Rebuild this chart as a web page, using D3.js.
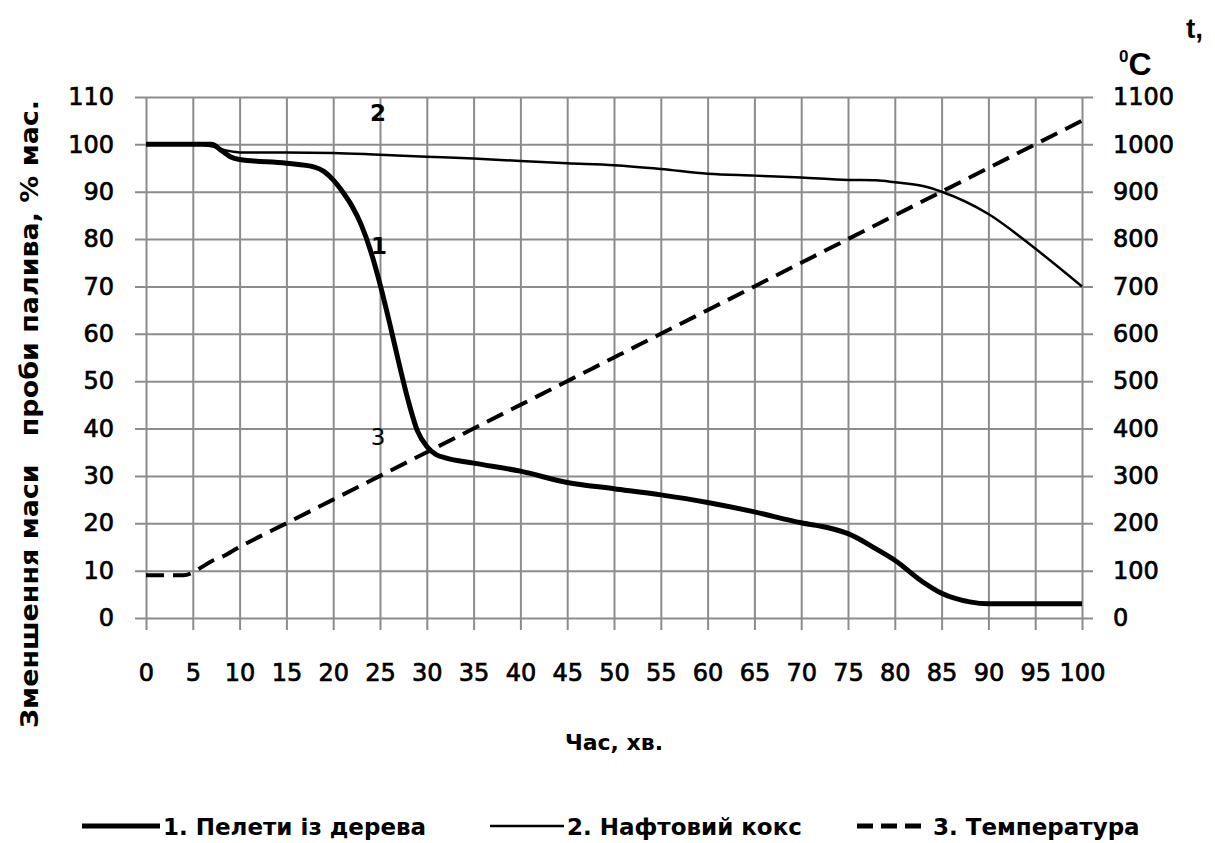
<!DOCTYPE html>
<html>
<head>
<meta charset="utf-8">
<script src="https://cdn.jsdelivr.net/npm/d3@7"></script>
<style>
  body { margin: 0; background: #fff; }
  svg { display: block; }
  text { font-family: "DejaVu Sans", Verdana, sans-serif; fill: #000; }
</style>
</head>
<body>
<div id="chart"></div>
<script>
// minutes, % of mass — series 1 (wood pellets)
const pelletTime = [0, 5, 7, 8, 9, 10, 15, 18, 19, 20, 21, 22, 23, 24, 25, 26, 27, 28, 29, 30, 31, 32, 35, 40, 45, 50, 55, 60, 65, 70, 73, 75, 78, 80, 83, 85, 88, 90, 95, 100]
const pelletMass = [100, 100, 100, 98.8, 97.4, 96.8, 96, 95.2, 94.3, 92.5, 90, 87, 83, 77.5, 70.5, 62.5, 54, 46, 39.5, 36.2, 34.5, 33.8, 32.7, 31, 28.6, 27.3, 26, 24.4, 22.4, 20.1, 19, 17.8, 14.6, 12.2, 7.6, 5.2, 3.4, 3, 3, 3]

// series 2 (petroleum coke)
const cokeTime = [0, 5, 7, 8, 9.5, 10, 15, 20, 25, 30, 35, 40, 45, 50, 55, 60, 65, 70, 75, 78, 80, 83, 85, 90, 95, 100]
const cokeMass = [100, 100, 99.6, 99, 98.4, 98.3, 98.3, 98.2, 97.8, 97.4, 97, 96.5, 96, 95.6, 94.8, 93.8, 93.4, 93, 92.5, 92.4, 92, 91.2, 90, 85.3, 78, 70]

// series 3 (temperature, °C)
const tempTime = [0, 4, 5, 6, 7, 8, 10, 15, 20, 25, 30, 35, 40, 45, 50, 55, 60, 65, 70, 75, 80, 85, 90, 95, 100]
const tempValue = [90, 90, 96, 108, 120, 128, 150, 200, 250, 300, 350, 400, 450, 500, 550, 600, 650, 700, 750, 800, 850, 900, 950, 1000, 1050]

const xTicks = d3.range(0, 101, 5)
const leftTicks = d3.range(0, 111, 10)
const rightTicks = d3.range(0, 1101, 100)

const WIDTH = 1215, HEIGHT = 843
const PLOT = { LEFT: 146, RIGHT: 1082, TOP: 97, BOTTOM: 618 }
const GRID = "#8c8c8c"

const svg = d3.select("#chart").append("svg")
  .attr("width", WIDTH)
  .attr("height", HEIGHT)

const x = d3.scaleLinear().domain([0, 100]).range([PLOT.LEFT, PLOT.RIGHT])
const yL = d3.scaleLinear().domain([0, 110]).range([PLOT.BOTTOM, PLOT.TOP])
const yR = d3.scaleLinear().domain([0, 1100]).range([PLOT.BOTTOM, PLOT.TOP])

// grid (lines overhang the plot a little, like tick marks)
const gridH = svg.append("g")
  .attr("transform", `translate(${PLOT.LEFT - 11}, 0)`)
  .call(d3.axisRight(yL).tickValues(leftTicks).tickSize(PLOT.RIGHT - PLOT.LEFT + 22).tickFormat(""))
const gridV = svg.append("g")
  .attr("transform", `translate(0, ${PLOT.TOP})`)
  .call(d3.axisBottom(x).tickValues(xTicks).tickSize(PLOT.BOTTOM - PLOT.TOP + 12).tickFormat(""))
for (const g of [gridH, gridV]) {
  g.select(".domain").remove()
  g.selectAll("line").attr("stroke", GRID).attr("stroke-width", 2)
}

// tick labels
const labelStyle = g => {
  g.select(".domain").remove()
  g.selectAll("text")
    .style("font-size", "24px")
    .style("font-family", "'DejaVu Sans', sans-serif")
    .attr("stroke", "#000")
    .attr("stroke-width", 0.7)
}

svg.append("g")
  .attr("transform", `translate(${PLOT.LEFT}, 0)`)
  .call(d3.axisLeft(yL).tickValues(leftTicks).tickSize(0).tickPadding(32))
  .call(labelStyle)

svg.append("g")
  .attr("transform", `translate(${PLOT.RIGHT}, 0)`)
  .call(d3.axisRight(yR).tickValues(rightTicks).tickSize(0).tickPadding(31).tickFormat(d3.format("d")))
  .call(labelStyle)

svg.append("g")
  .attr("transform", `translate(0, ${PLOT.BOTTOM})`)
  .call(d3.axisBottom(x).tickValues(xTicks).tickSize(0).tickPadding(46))
  .call(labelStyle)

// lines
const lineL = d3.line().x(d => x(d[0])).y(d => yL(d[1])).curve(d3.curveMonotoneX)
const lineR = d3.line().x(d => x(d[0])).y(d => yR(d[1])).curve(d3.curveMonotoneX)

svg.append("path")
  .datum(d3.zip(tempTime, tempValue))
  .attr("d", lineR)
  .attr("fill", "none")
  .attr("stroke", "#000")
  .attr("stroke-width", 4)
  .attr("stroke-dasharray", "18,9")

svg.append("path")
  .datum(d3.zip(cokeTime, cokeMass))
  .attr("d", lineL)
  .attr("fill", "none")
  .attr("stroke", "#000")
  .attr("stroke-width", 2.5)

svg.append("path")
  .datum(d3.zip(pelletTime, pelletMass))
  .attr("d", lineL)
  .attr("fill", "none")
  .attr("stroke", "#000")
  .attr("stroke-width", 5)

// curve numbers
const curveLabels = [["2", 378, 113], ["1", 379, 246], ["3", 378, 437]]
svg.selectAll(".curve-num")
  .data(curveLabels)
  .enter().append("text")
  .attr("x", d => d[1])
  .attr("y", d => d[2])
  .attr("dy", "0.36em")
  .attr("text-anchor", "middle")
  .style("font-size", "23px")
  .style("font-weight", d => d[0] === "3" ? "normal" : "bold")
  .text(d => d[0])

// axis titles
svg.append("text")
  .attr("x", 614)
  .attr("y", 750)
  .attr("text-anchor", "middle")
  .style("font-size", "22px")
  .style("font-weight", "bold")
  .text("Час, хв.")

svg.append("text")
  .attr("transform", "translate(38, 414) rotate(-90)")
  .attr("text-anchor", "middle")
  .attr("textLength", 628)
  .attr("lengthAdjust", "spacingAndGlyphs")
  .style("font-size", "24px")
  .style("font-weight", "bold")
  .style("white-space", "pre")
  .text("Зменшення маси   проби палива, % мас.")

svg.append("text")
  .attr("x", 1186)
  .attr("y", 38)
  .style("font-family", "'Liberation Sans', Arial, sans-serif")
  .style("font-size", "28px")
  .style("font-weight", "bold")
  .text("t,")

const unit = svg.append("text")
  .attr("x", 1119)
  .attr("y", 75)
  .style("font-family", "'Liberation Sans', Arial, sans-serif")
  .style("font-weight", "bold")
unit.append("tspan").style("font-size", "17px").attr("dy", -13).text("0")
unit.append("tspan").style("font-size", "32px").attr("dy", 13).text("C")

// legend
const legendItems = [
  { label: "1. Пелети із дерева", x1: 82, x2: 160, width: 5, dash: null },
  { label: "2. Нафтовий кокс", x1: 490, x2: 564, width: 2.5, dash: null },
  { label: "3. Температура", x1: 857, x2: 923, width: 5, dash: "16,8" }
]
const LEGEND_Y = 826
const legend = svg.selectAll(".legend")
  .data(legendItems)
  .enter().append("g")

legend.append("line")
  .attr("x1", d => d.x1)
  .attr("x2", d => d.x2)
  .attr("y1", LEGEND_Y)
  .attr("y2", LEGEND_Y)
  .attr("stroke", "#000")
  .attr("stroke-width", d => d.width)
  .attr("stroke-dasharray", d => d.dash)

legend.append("text")
  .attr("x", d => d.x2 + (d.dash ? 10 : 3))
  .attr("y", LEGEND_Y + 9)
  .style("font-size", "23px")
  .style("font-weight", "bold")
  .text(d => d.label)
</script>
</body>
</html>
